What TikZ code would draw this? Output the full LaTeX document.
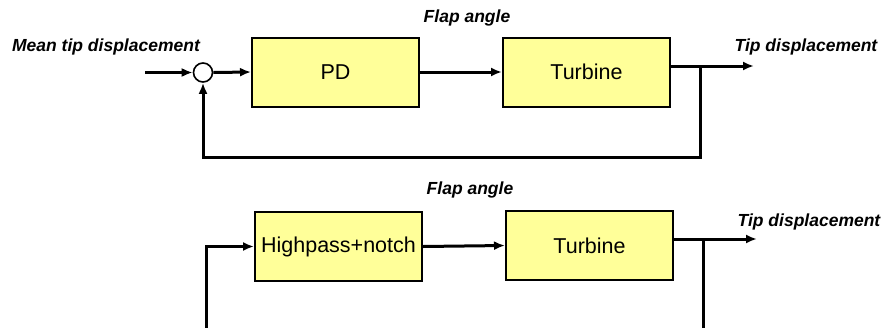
\documentclass[tikz,border=0pt]{standalone}
\usepackage{fontspec}
\setmainfont{Liberation Sans}
\usetikzlibrary{arrows.meta}
\definecolor{boxfill}{RGB}{255,255,153}
\begin{document}
\begin{tikzpicture}[>={Latex[length=11pt,width=9pt]}, x=1pt, y=-1pt, line width=3pt,
    bloco/.style={draw, line width=2pt, rectangle, fill=boxfill, minimum width=167pt, minimum height=69pt, inner sep=0pt, font=\fontsize{21.5}{24}\selectfont},
    rotulo/.style={font=\fontsize{17.5}{20}\selectfont\bfseries\itshape, inner sep=0pt}]
\useasboundingbox (0,0) rectangle (884,327);
% upper loop
\node[rotulo] (mean) at (106,47) {Mean tip displacement};
\node[draw, circle, line width=1.6pt, minimum size=19pt, inner sep=0pt] (sum) at (203,72.5) {};
\coordinate (in1) at (145,72.5);
\draw[->] (in1) -- (sum.west);
\node[bloco] (pd) at (335.5,72) {PD};
\draw[->] (sum.east) -- (pd.west);
\node[rotulo] (flap1) at (467,18) {Flap angle};
\node[bloco] (turb1) at (586.5,72) {Turbine};
\draw[->] (pd.east) -- (turb1.west);
\coordinate (out1) at (754,66);
\coordinate (tap1) at (700,66);
\draw[->] (turb1.east |- out1) -- (out1);
\node[rotulo] (tip1) at (806,47) {Tip displacement};
\draw[->] (tap1) -- (700,157) -| (sum.south);
% lower loop
\node[rotulo] (flap2) at (470,190) {Flap angle};
\node[bloco] (hpn) at (338.5,246.5) {Highpass+notch};
\node[bloco] (turb2) at (589.5,245.5) {Turbine};
\draw[->] (hpn.east) -- (turb2.west);
\coordinate (out2) at (757,239);
\coordinate (tap2) at (703,239);
\draw[->] (turb2.east |- out2) -- (out2);
\node[rotulo] (tip2) at (809,222) {Tip displacement};
\coordinate (foot2) at (703,330);
\draw (tap2) -- (foot2);
\coordinate (in2) at (206,330);
\draw[->] (in2) |- (hpn.west);
\end{tikzpicture}
\end{document}
